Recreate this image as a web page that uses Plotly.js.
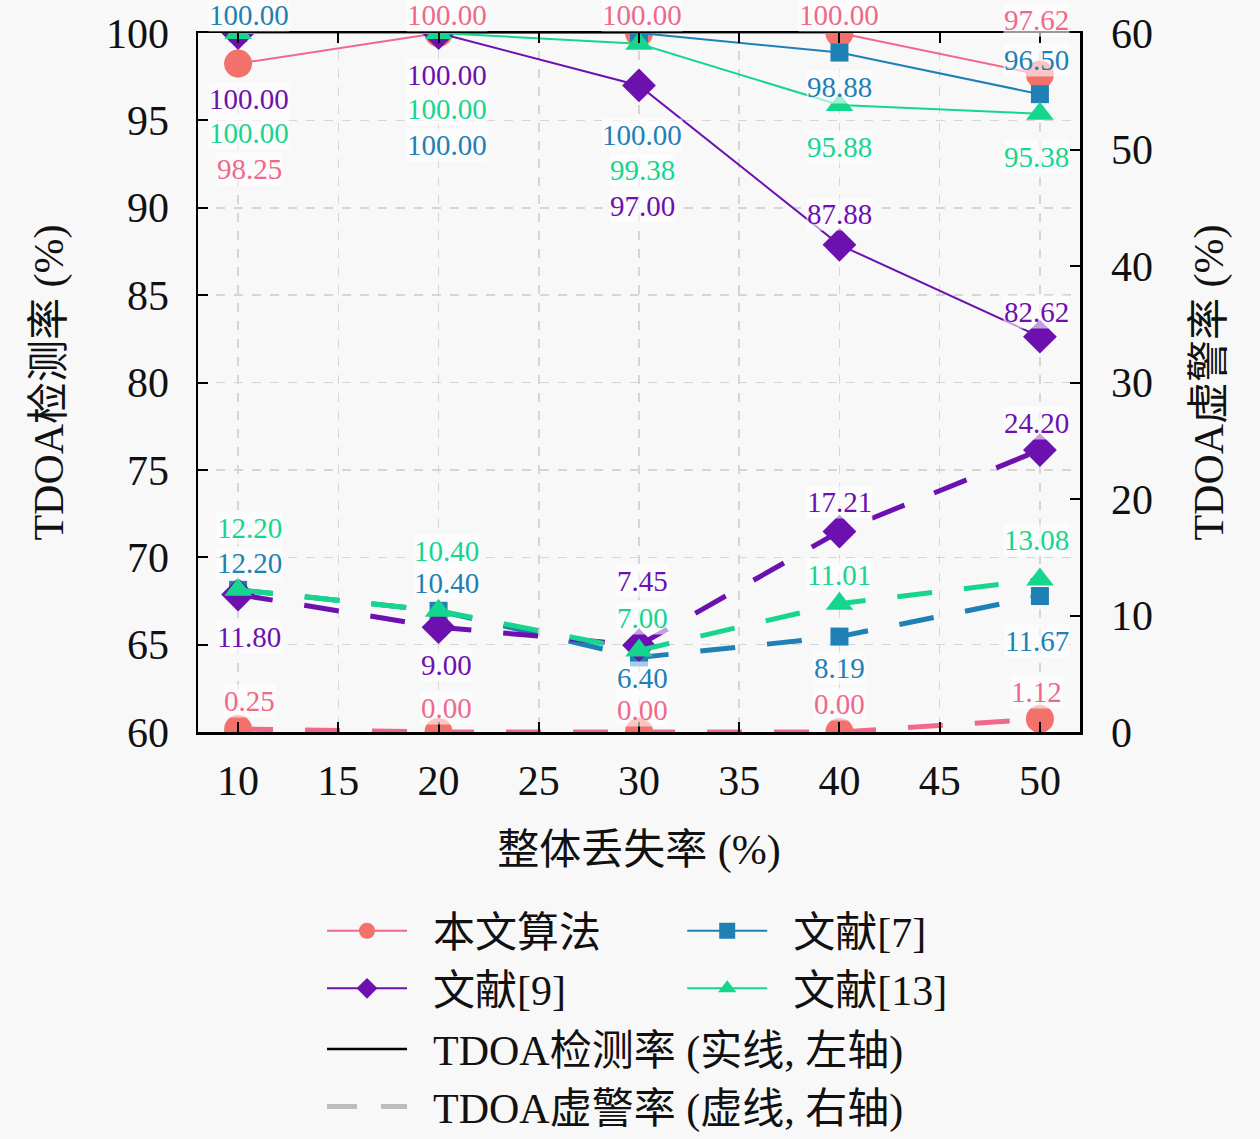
<!DOCTYPE html>
<html>
<head>
<meta charset="utf-8">
<script src="https://cdn.plot.ly/plotly-3.0.1.min.js"></script>
<style>
  html, body { margin: 0; padding: 0; background: #f8f8f8; }
  #chart { width: 1260px; height: 1139px; }
</style>
</head>
<body>
<div id="chart"></div>
<script>
// overall loss rate (%)
var lossRate = [10, 20, 30, 40, 50];

var names = ['本文算法', '文献[7]', '文献[9]', '文献[13]'];

// TDOA detection rate (%), left axis
var detOurs = [98.25, 100.00, 100.00, 100.00, 97.62];
var detRef7 = [100.00, 100.00, 100.00, 98.88, 96.50];
var detRef9 = [100.00, 100.00, 97.00, 87.88, 82.62];
var detRef13 = [100.00, 100.00, 99.38, 95.88, 95.38];

// TDOA false alarm rate (%), right axis
var faOurs = [0.25, 0.00, 0.00, 0.00, 1.12];
var faRef7 = [12.20, 10.40, 6.40, 8.19, 11.67];
var faRef9 = [11.80, 9.00, 7.45, 17.21, 24.20];
var faRef13 = [12.20, 10.40, 7.00, 11.01, 13.08];

// label offsets in px (up is positive), so the value texts do not collide
var detShift = [[-105, 18, 18, 18, 55], [18, -112, -102, -34, 34],
                [-66, -42, -121, 31, 25], [-100, -76, -126, -42, -43]];
var faShift = [[28, 24, 22, 28, 27], [27, 28, -21, -31, -45],
               [-42, -38, 64, 30, 27], [62, 60, 32, 29, 40]];
var xNudge = [11, 8, 3, 0, -3];

var lineColors = ['#f0698a', '#1f80b6', '#6c10b0', '#16d68e'];
var markColors = ['#f2716b', '#1f80b6', '#6c10b0', '#16d68e'];
var symbols = ['circle', 'square', 'diamond', 'triangle-up'];
var sizes = [28, 18, 26, 24];
var legendFor = ['legend', 'legend3', 'legend', 'legend3'];

var FONT = "'Liberation Serif', 'Noto Sans CJK SC', serif";
var GAP = '\u00a0\u00a0';

var det = [detOurs, detRef7, detRef9, detRef13];
var fa = [faOurs, faRef7, faRef9, faRef13];

var traces = [];
var annotations = [];

for (var i = 0; i < names.length; i++) {
  traces.push({
    x: lossRate, y: det[i], name: GAP + names[i], type: 'scatter', mode: 'lines+markers',
    yaxis: 'y', legend: legendFor[i],
    line: {color: lineColors[i], width: 2},
    marker: {symbol: symbols[i], size: sizes[i], color: markColors[i]}
  });
  traces.push({
    x: lossRate, y: fa[i], name: names[i], type: 'scatter', mode: 'lines+markers',
    yaxis: 'y2', showlegend: false,
    line: {color: lineColors[i], width: 5, dash: '35px,32px'},
    marker: {symbol: symbols[i], size: sizes[i], color: markColors[i]}
  });
  for (var j = 0; j < lossRate.length; j++) {
    annotations.push({
      x: lossRate[j], y: det[i][j], xref: 'x', yref: 'y',
      text: det[i][j].toFixed(2), showarrow: false,
      xshift: xNudge[j], yshift: detShift[i][j],
      font: {family: FONT, size: 29, color: lineColors[i]},
      bgcolor: 'rgba(255,255,255,0.6)', borderpad: 0
    });
    annotations.push({
      x: lossRate[j], y: fa[i][j], xref: 'x', yref: 'y2',
      text: fa[i][j].toFixed(2), showarrow: false,
      xshift: xNudge[j], yshift: faShift[i][j],
      font: {family: FONT, size: 29, color: lineColors[i]},
      bgcolor: 'rgba(255,255,255,0.6)', borderpad: 0
    });
  }
}

// line style key
traces.push({
  x: [null], y: [null], name: GAP + 'TDOA检测率 (实线, 左轴)', type: 'scatter', mode: 'lines',
  legend: 'legend2', line: {color: '#000000', width: 2.5}
});
traces.push({
  x: [null], y: [null], name: GAP + 'TDOA虚警率 (虚线, 右轴)', type: 'scatter', mode: 'lines',
  legend: 'legend2', line: {color: '#bdbdbd', width: 5, dash: '30px,24px'}
});

var legendBase = {
  orientation: 'v', xanchor: 'left', yanchor: 'top',
  bgcolor: 'rgba(0,0,0,0)', borderwidth: 0, itemwidth: 80,
  font: {family: FONT, size: 42, color: '#111111'}
};

var layout = {
  width: 1260, height: 1139,
  paper_bgcolor: '#f8f8f8', plot_bgcolor: '#f8f8f8',
  margin: {l: 198, r: 180, t: 33, b: 407, autoexpand: false},
  font: {family: FONT, color: '#111111'},
  xaxis: {
    range: [8, 52], tick0: 0, dtick: 5,
    ticks: 'inside', ticklen: 10, tickwidth: 2, tickcolor: '#000',
    showline: true, linecolor: '#000', linewidth: 2.5, mirror: 'ticks',
    showgrid: true, gridcolor: '#d6d6d6', gridwidth: 1.5, griddash: 'dash',
    zeroline: false, ticklabelstandoff: 10,
    tickfont: {family: FONT, size: 42, color: '#111'},
    title: {text: '整体丢失率 (%)', font: {family: FONT, size: 42, color: '#111'}, standoff: 32}
  },
  yaxis: {
    range: [60, 100], tick0: 0, dtick: 5,
    ticks: 'inside', ticklen: 10, tickwidth: 2, tickcolor: '#000',
    showline: true, linecolor: '#000', linewidth: 2.5,
    showgrid: true, gridcolor: '#d6d6d6', gridwidth: 1.5, griddash: 'dash',
    zeroline: false, ticklabelstandoff: 18,
    tickfont: {family: FONT, size: 42, color: '#111'},
    title: {text: 'TDOA检测率 (%)', font: {family: FONT, size: 42, color: '#111'}, standoff: 30}
  },
  yaxis2: {
    overlaying: 'y', side: 'right', range: [0, 60], tick0: 0, dtick: 10,
    ticks: 'inside', ticklen: 10, tickwidth: 2, tickcolor: '#000',
    showline: true, linecolor: '#000', linewidth: 2.5,
    showgrid: false, zeroline: false, ticklabelstandoff: 20,
    tickfont: {family: FONT, size: 42, color: '#111'},
    title: {text: 'TDOA虚警率 (%)', font: {family: FONT, size: 42, color: '#111'}, standoff: 42}
  },
  legend: Object.assign({}, legendBase, {x: 0.1406, y: -0.236}),
  legend3: Object.assign({}, legendBase, {x: 0.549, y: -0.236}),
  legend2: Object.assign({}, legendBase, {x: 0.1406, y: -0.405}),
  annotations: annotations,
  showlegend: true
};

Plotly.newPlot('chart', traces, layout, {displayModeBar: false, staticPlot: true});
</script>
</body>
</html>
